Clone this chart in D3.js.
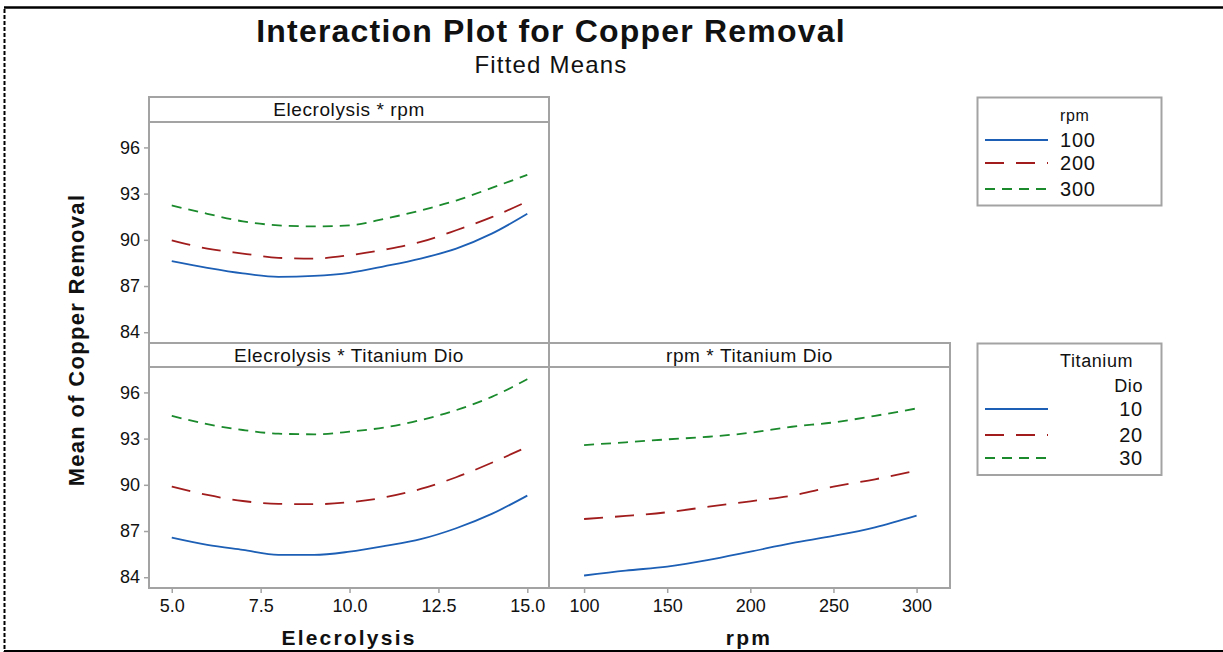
<!DOCTYPE html>
<html>
<head>
<meta charset="utf-8">
<script src="https://cdn.jsdelivr.net/npm/d3@7"></script>
<style>
  body { margin: 0; background: #fff; }
  svg text { font-family: "Liberation Sans", Arial, sans-serif; fill: #111; }
</style>
</head>
<body>
<svg id="chart" width="1223" height="652"></svg>
<script>
(function () {
  "use strict";

  // --- data ---
  var electrolysis = [5, 6, 7, 8, 9, 10, 11, 12, 13, 14, 15];
  var rpm = [100, 125, 150, 175, 200, 225, 250, 275, 300];

  var elecRpm100 = [88.61, 88.18, 87.82, 87.60, 87.66, 87.86, 88.29, 88.78, 89.43, 90.40, 91.69];
  var elecRpm200 = [89.97, 89.43, 89.11, 88.83, 88.78, 89.00, 89.37, 89.86, 90.62, 91.47, 92.49];
  var elecRpm300 = [92.23, 91.69, 91.20, 90.94, 90.87, 90.94, 91.37, 91.91, 92.55, 93.37, 94.22];

  var elecTi10 = [86.57, 86.10, 85.77, 85.45, 85.45, 85.66, 86.03, 86.47, 87.18, 88.11, 89.30];
  var elecTi20 = [89.88, 89.34, 88.95, 88.76, 88.74, 88.87, 89.19, 89.73, 90.49, 91.43, 92.47];
  var elecTi30 = [94.48, 93.94, 93.56, 93.32, 93.28, 93.45, 93.73, 94.20, 94.85, 95.71, 96.86];

  var rpmTi10 = [84.11, 84.43, 84.69, 85.12, 85.66, 86.21, 86.68, 87.24, 88.00];
  var rpmTi20 = [87.78, 87.98, 88.22, 88.58, 88.93, 89.30, 89.88, 90.36, 90.92];
  var rpmTi30 = [92.58, 92.76, 92.95, 93.12, 93.38, 93.77, 94.05, 94.48, 94.96];

  var yTicks = [84, 87, 90, 93, 96];
  var elecTicks = [5, 7.5, 10, 12.5, 15];
  var rpmTicks = [100, 150, 200, 250, 300];
  var rpmLegend = ["100", "200", "300"];
  var tiLegend = ["10", "20", "30"];

  var styles = [
    { color: "#1c5fb5", dash: null },
    { color: "#a11d1d", dash: "19,12" },
    { color: "#1a8a2c", dash: "10,7" }
  ];
  var frame = "#a3a3a3";

  var svg = d3.select("#chart");

  // outer page border
  svg.append("line").attr("x1", 4).attr("x2", 1223).attr("y1", 7.5).attr("y2", 7.5)
    .attr("stroke", "#000").attr("stroke-width", 2.5);
  svg.append("line").attr("x1", 4).attr("x2", 1223).attr("y1", 651).attr("y2", 651)
    .attr("stroke", "#000").attr("stroke-width", 2);
  svg.append("line").attr("x1", 4.5).attr("x2", 4.5).attr("y1", 9).attr("y2", 652)
    .attr("stroke", "#000").attr("stroke-width", 2).attr("stroke-dasharray", "4,2");

  // titles
  svg.append("text").attr("x", 551).attr("y", 42).attr("text-anchor", "middle")
    .style("font-size", "32px").style("font-weight", "bold").style("letter-spacing", "1.2px")
    .text("Interaction Plot for Copper Removal");
  svg.append("text").attr("x", 551).attr("y", 73).attr("text-anchor", "middle")
    .style("font-size", "24px").style("letter-spacing", "1.2px").text("Fitted Means");
  svg.append("text").attr("transform", "translate(84,340) rotate(-90)").attr("text-anchor", "middle")
    .style("font-size", "22px").style("font-weight", "bold").style("letter-spacing", "1.3px")
    .text("Mean of Copper Removal");
  svg.append("text").attr("x", 349).attr("y", 645).attr("text-anchor", "middle")
    .style("font-size", "21px").style("font-weight", "bold").style("letter-spacing", "2.2px")
    .text("Elecrolysis");
  svg.append("text").attr("x", 749).attr("y", 645).attr("text-anchor", "middle")
    .style("font-size", "21px").style("font-weight", "bold").style("letter-spacing", "2.2px")
    .text("rpm");

  var yDomain = [83.3, 97.65];
  var elecDomain = [4.36, 15.61];
  var rpmDomain = [78.9, 320.1];

  function panel(opt) {
    var g = svg.append("g");
    var x = d3.scaleLinear().domain(opt.xDomain).range([opt.left, opt.right]);
    var y = d3.scaleLinear().domain(yDomain).range([opt.bottom, opt.top]);

    g.append("rect").attr("x", opt.left).attr("y", opt.headTop)
      .attr("width", opt.right - opt.left).attr("height", opt.bottom - opt.headTop)
      .attr("fill", "none").attr("stroke", frame).attr("stroke-width", 2);
    g.append("line").attr("x1", opt.left).attr("x2", opt.right)
      .attr("y1", opt.top).attr("y2", opt.top)
      .attr("stroke", frame).attr("stroke-width", 2);
    g.append("text").attr("x", (opt.left + opt.right) / 2).attr("y", opt.headTop + 19)
      .attr("text-anchor", "middle").style("font-size", "19px").style("letter-spacing", "0.6px")
      .text(opt.header);

    if (opt.yAxis) {
      var ya = g.append("g").attr("transform", "translate(" + opt.left + ",0)")
        .call(d3.axisLeft(y).tickValues(yTicks).tickSize(5).tickPadding(4).tickFormat(d3.format("d")));
      ya.select(".domain").remove();
      ya.selectAll("line").attr("stroke", frame).attr("stroke-width", 1.5);
      ya.selectAll("text").style("font-size", "18px").style("font-family", "Liberation Sans, Arial, sans-serif").attr("fill", "#111");
    }
    if (opt.xTicks) {
      var xa = g.append("g").attr("transform", "translate(0," + opt.bottom + ")")
        .call(d3.axisBottom(x).tickValues(opt.xTicks).tickSize(5).tickPadding(6).tickFormat(opt.xFormat));
      xa.select(".domain").remove();
      xa.selectAll("line").attr("stroke", frame).attr("stroke-width", 1.5);
      xa.selectAll("text").style("font-size", "18px").style("font-family", "Liberation Sans, Arial, sans-serif").attr("fill", "#111");
    }

    var line = d3.line()
      .x(function (d) { return x(d[0]); })
      .y(function (d) { return y(d[1]); })
      .curve(d3.curveMonotoneX);

    opt.series.forEach(function (vals, i) {
      g.append("path")
        .datum(opt.xs.map(function (v, j) { return [v, vals[j]]; }))
        .attr("d", line)
        .attr("fill", "none")
        .attr("stroke", styles[i].color)
        .attr("stroke-width", 1.8)
        .attr("stroke-dasharray", styles[i].dash);
    });
  }

  panel({
    left: 149, right: 549, headTop: 97, top: 122, bottom: 343,
    xDomain: elecDomain, header: "Elecrolysis * rpm", yAxis: true,
    xs: electrolysis, series: [elecRpm100, elecRpm200, elecRpm300]
  });
  panel({
    left: 149, right: 549, headTop: 343, top: 367, bottom: 588,
    xDomain: elecDomain, header: "Elecrolysis * Titanium Dio", yAxis: true,
    xTicks: elecTicks, xFormat: d3.format(".1f"),
    xs: electrolysis, series: [elecTi10, elecTi20, elecTi30]
  });
  panel({
    left: 549, right: 950, headTop: 343, top: 367, bottom: 588,
    xDomain: rpmDomain, header: "rpm * Titanium Dio", yAxis: false,
    xTicks: rpmTicks, xFormat: d3.format("d"),
    xs: rpm, series: [rpmTi10, rpmTi20, rpmTi30]
  });

  // legends
  function legend(top, bottom, titleLines, labels, anchorRight, rowY) {
    var g = svg.append("g");
    g.append("rect").attr("x", 977.5).attr("y", top).attr("width", 184).attr("height", bottom - top)
      .attr("fill", "none").attr("stroke", frame).attr("stroke-width", 2);
    titleLines.forEach(function (t) {
      g.append("text").attr("x", t.x).attr("y", t.y).attr("text-anchor", t.anchor)
        .style("font-size", t.size + "px").style("letter-spacing", "0.6px").text(t.text);
    });
    labels.forEach(function (lab, i) {
      g.append("line").attr("x1", 985).attr("x2", 1048)
        .attr("y1", rowY[i]).attr("y2", rowY[i])
        .attr("stroke", styles[i].color).attr("stroke-width", 1.8)
        .attr("stroke-dasharray", styles[i].dash);
      g.append("text")
        .attr("x", anchorRight ? 1143 : 1060).attr("y", rowY[i] + 7)
        .attr("text-anchor", anchorRight ? "end" : "start")
        .style("font-size", "20px").style("letter-spacing", "0.8px").text(lab);
    });
  }

  legend(97.5, 205.5, [{ x: 1060, y: 121, anchor: "start", size: 16, text: "rpm" }],
    rpmLegend, false, [140, 163, 189]);
  legend(343.5, 475, [
    { x: 1060, y: 367, anchor: "start", size: 18, text: "Titanium" },
    { x: 1143, y: 392, anchor: "end", size: 18, text: "Dio" }
  ], tiLegend, true, [409, 435, 458]);
}());
</script>
</body>
</html>
